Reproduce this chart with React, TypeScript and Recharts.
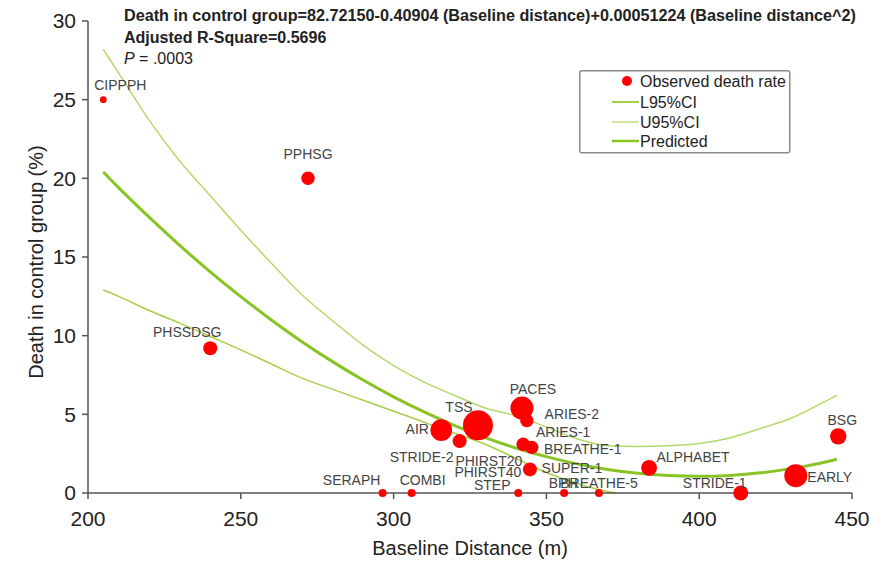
import React from 'react';
import { ComposedChart, Line, Scatter, XAxis, YAxis, ZAxis } from 'recharts';

// Studies (observed control-group death rate vs baseline 6MWD)
const studyNames = ['CIPPPH', 'PPHSG', 'PHSSDSG', 'AIR', 'STRIDE-2', 'TSS', 'PACES', 'ARIES-2', 'ARIES-1', 'BREATHE-1', 'PHIRST20', 'PHIRST40', 'SUPER-1', 'SERAPH', 'COMBI', 'STEP', 'BPH', 'BREATHE-5', 'ALPHABET', 'STRIDE-1', 'EARLY', 'BSG'];
const baselineDistance = [205, 272, 240, 315.6, 321.6, 327.6, 342, 343.6, 342.4, 345.2, 344.6, 344.6, 344.6, 296.4, 305.9, 340.8, 355.8, 367.2, 383.6, 413.6, 431.6, 445.5];
const controlDeath = [25, 20, 9.2, 4.0, 3.3, 4.3, 5.4, 4.6, 3.1, 2.9, 1.5, 1.5, 1.5, 0, 0, 0, 0, 0, 1.6, 0, 1.1, 3.6];
const studyWeight = [45, 180, 196, 470, 196, 900, 530, 180, 180, 180, 150, 150, 196, 64, 64, 64, 64, 64, 250, 225, 530, 270];

// Curves
const curveX = [205, 210, 220, 230, 240, 250, 260, 270, 280, 290, 300, 310, 320, 330, 340, 350, 360, 370, 380, 390, 400, 410, 420, 430, 440, 445];
const predictedY = [20.4, 19.41, 17.53, 15.74, 14.06, 12.48, 11.0, 9.62, 8.35, 7.18, 6.11, 5.15, 4.28, 3.52, 2.86, 2.31, 1.85, 1.5, 1.25, 1.11, 1.06, 1.12, 1.28, 1.55, 1.91, 2.14];
const upperY = [28.2, 26.7, 23.7, 21.1, 18.9, 16.7, 14.6, 12.6, 10.95, 9.4, 8.1, 7.05, 6.2, 5.4, 4.9, 4.2, 3.45, 3.0, 2.95, 3.0, 3.15, 3.5, 4.1, 4.75, 5.7, 6.2];
const lowerX = [205, 210, 220, 230, 240, 250, 260, 270, 280, 290, 300, 310, 320, 330, 340, 350, 360, 370, 373];
const lowerY = [12.9, 12.5, 11.6, 10.8, 9.95, 9.1, 8.2, 7.3, 6.6, 5.9, 5.2, 4.5, 3.8, 3.1, 2.2, 1.3, 0.6, 0.1, 0];

const xTicks = [200, 250, 300, 350, 400, 450];
const yTicks = [0, 5, 10, 15, 20, 25, 30];

const studies = studyNames.map((name, i) => ({ name, x: baselineDistance[i], y: controlDeath[i], n: studyWeight[i] }));
const predicted = curveX.map((x, i) => ({ x, y: predictedY[i] }));
const upper = curveX.map((x, i) => ({ x, y: upperY[i] }));
const lower = lowerX.map((x, i) => ({ x, y: lowerY[i] }));

// label placement (text centre relative to dot centre), styling only
const labelOffset: Record<string, [number, number]> = {
  'CIPPPH': [17, -15], 'PPHSG': [0, -24], 'PHSSDSG': [-23, -16], 'AIR': [-24, -1], 'STRIDE-2': [-38, 16],
  'TSS': [-19, -18], 'PACES': [11, -19], 'ARIES-2': [45, -7], 'ARIES-1': [40, -12], 'BREATHE-1': [51, 2],
  'PHIRST20': [-41, -8], 'PHIRST40': [-42, 3], 'SUPER-1': [42, -1], 'SERAPH': [-31, -13], 'COMBI': [11, -13],
  'STEP': [-26, -8], 'BPH': [-1, -10], 'BREATHE-5': [0, -10], 'ALPHABET': [44, -11], 'STRIDE-1': [-26, -10],
  'EARLY': [34, 1], 'BSG': [4, -16],
};

const FONT = 'Arial, "Liberation Sans", Helvetica, sans-serif';
const RED = '#ff0000';
const C_LOWER = '#a6d04a';
const C_UPPER = '#b4d96a';
const C_PRED = '#88c424';

const Dot = (props: any) => {
  const { cx, cy, size } = props;
  const r = Math.sqrt((size ?? 64) / Math.PI);
  return <circle cx={cx} cy={cy} r={r} fill={RED} />;
};

const LabelShape = (props: any) => {
  const { cx, cy, payload } = props;
  const off = labelOffset[payload.name] || [0, -12];
  return (
    <text x={cx + off[0]} y={cy + off[1]} textAnchor="middle" dominantBaseline="central"
      fontSize={14} fontFamily={FONT} fill="#444">{payload.name}</text>
  );
};

const LegendBox = () => (
  <g transform="translate(579,70)">
    <rect x={0.75} y={0.75} width={210} height={82} rx={2} fill="#fff" stroke="#8a8a8a" strokeWidth={1.5} />
    <circle cx={48} cy={11} r={5} fill={RED} />
    <text x={61} y={11} dominantBaseline="central" fontSize={16} fontFamily={FONT} fill="#222">Observed death rate</text>
    <line x1={33} x2={60} y1={32} y2={32} stroke={C_LOWER} strokeWidth={2} />
    <text x={61} y={32} dominantBaseline="central" fontSize={16} fontFamily={FONT} fill="#222">L95%CI</text>
    <line x1={33} x2={60} y1={52} y2={52} stroke="#cfe6a0" strokeWidth={2} />
    <text x={61} y={52} dominantBaseline="central" fontSize={16} fontFamily={FONT} fill="#222">U95%CI</text>
    <line x1={33} x2={60} y1={71} y2={71} stroke={C_PRED} strokeWidth={2.5} />
    <text x={61} y={71} dominantBaseline="central" fontSize={16} fontFamily={FONT} fill="#222">Predicted</text>
  </g>
);

export default function App() {
  return (
    <div style={{ position: 'absolute', left: 0, top: 0, width: 875, height: 566, background: '#fff', fontFamily: FONT }}>
      <ComposedChart width={875} height={566} margin={{ top: 21, right: 23, bottom: 0, left: 0 }}>
        <XAxis dataKey="x" type="number" domain={[200, 450]} ticks={xTicks}
          height={73} tickSize={6} tickMargin={12}
          axisLine={{ stroke: '#555', strokeWidth: 1.5 }} tickLine={{ stroke: '#555', strokeWidth: 1.5 }}
          tick={{ fontSize: 21, fill: '#222', fontFamily: FONT }}
          label={{ value: 'Baseline Distance (m)', position: 'insideBottom', offset: 11, fontSize: 20, fill: '#222', fontFamily: FONT }} />
        <YAxis dataKey="y" type="number" domain={[0, 30]} ticks={yTicks}
          width={88} tickSize={6} tickMargin={6}
          axisLine={{ stroke: '#555', strokeWidth: 1.5 }} tickLine={{ stroke: '#555', strokeWidth: 1.5 }}
          tick={{ fontSize: 21, fill: '#222', fontFamily: FONT }} />
        <ZAxis dataKey="n" type="number" domain={[0, 900]} range={[0, 707]} />
        <Line data={upper} dataKey="y" name="U95%CI" type="monotone" stroke={C_UPPER} strokeWidth={1.5} dot={false} isAnimationActive={false} />
        <Line data={lower} dataKey="y" name="L95%CI" type="monotone" stroke={C_LOWER} strokeWidth={1.5} dot={false} isAnimationActive={false} />
        <Line data={predicted} dataKey="y" name="Predicted" type="monotone" stroke={C_PRED} strokeWidth={3} dot={false} isAnimationActive={false} />
        <Scatter data={studies} dataKey="y" name="Observed death rate" shape={<Dot />} isAnimationActive={false} />
        <Scatter data={studies} dataKey="y" name="labels" shape={<LabelShape />} legendType="none" isAnimationActive={false} />
      </ComposedChart>
      <svg width={875} height={566} style={{ position: 'absolute', left: 0, top: 0, pointerEvents: 'none' }}>
        <LegendBox />
        <text x={36} y={262} transform="rotate(-90 36 262)" textAnchor="middle" dominantBaseline="central"
          fontSize={20} fontFamily={FONT} fill="#222">Death in control group (%)</text>
        <text x={124} y={15} dominantBaseline="central" fontSize={16.2} fontWeight="bold" fontFamily={FONT} fill="#222">
          Death in control group=82.72150-0.40904 (Baseline distance)+0.00051224 (Baseline distance^2)
        </text>
        <text x={124} y={37} dominantBaseline="central" fontSize={16} fontWeight="bold" fontFamily={FONT} fill="#222">
          Adjusted R-Square=0.5696
        </text>
        <text x={124} y={58} dominantBaseline="central" fontSize={16} fontFamily={FONT} fill="#222">
          <tspan fontStyle="italic">P</tspan> = .0003
        </text>
      </svg>
    </div>
  );
}
